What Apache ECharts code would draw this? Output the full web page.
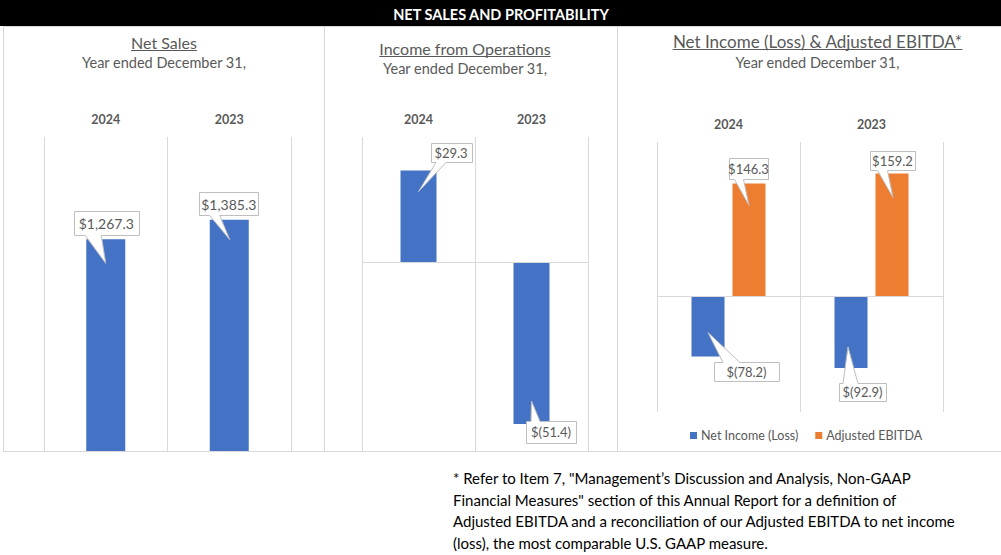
<!DOCTYPE html>
<html><head><meta charset="utf-8">
<script src="https://cdn.jsdelivr.net/npm/echarts@6/dist/echarts.min.js"></script>
<style>html,body{margin:0;padding:0;background:#fff}#c{width:1001px;height:555px}</style>
</head><body><div id="c"></div>
<script>
// ---- data ----
const years = ['2024', '2023'];
const netSales = [1267.3, 1385.3];
const incomeFromOps = [29.3, -51.4];
const netIncome = [-78.2, -92.9];
const adjEbitda = [146.3, 159.2];
const seriesNames = ['Net Income (Loss)', 'Adjusted EBITDA'];
const panelTitles = ['Net Sales', 'Income from Operations', 'Net Income (Loss) & Adjusted EBITDA*'];
const subtitleText = 'Year ended December 31,';
const headerText = 'NET SALES AND PROFITABILITY';
const footnoteLines = [
  '* Refer to Item 7, "Management\u2019s Discussion and Analysis, Non-GAAP',
  'Financial Measures" section of this Annual Report for a definition of',
  'Adjusted EBITDA and a reconciliation of our Adjusted EBITDA to net income',
  '(loss), the most comparable U.S. GAAP measure.'
];

// ---- style ----
const FONT = 'Lato';
const GRAY = '#595959';
const LINE = '#d9d9d9';
const BLUE = '#4472C4';
const ORANGE = '#ED7D31';

// callout box styles (offsets from bar end, box size, wedge base, tip offset)
const calloutNetSales = [
  {dx: 0.5, dy: -16.8, w: 65, h: 24, b0: -21, b1: -5, tx: 0, ty: 24},
  {dx: -0.5, dy: -16, w: 59, h: 23, b0: -19, b1: -9, tx: 0.5, ty: 20}
];
const calloutOps = [
  {dx: 32.5, dy: -18.5, w: 41, h: 19, b0: -15, b1: -5, tx: 0, ty: 21},
  {dx: 19.5, dy: 8, w: 50, h: 22, b0: -20, b1: -11, tx: 0, ty: -23}
];
const calloutNetIncome = [
  {dx: 38.5, dy: 14.5, w: 65, h: 19, b0: -23.5, b1: -6.5, tx: 0, ty: -24},
  {dx: 11.5, dy: 24, w: 47, h: 18, b0: -19.5, b1: -4.5, tx: -3, ty: -21}
];
const calloutEbitda = [
  {dx: -0.5, dy: -14.5, w: 39, h: 21, b0: -14, b1: -5, tx: 0, ty: 22},
  {dx: 0.5, dy: -12.5, w: 45, h: 19, b0: -15, b1: -5, tx: 1, ty: 24}
];

function fmt(v) {
  const s = Math.abs(v).toLocaleString('en-US', {minimumFractionDigits: 1, maximumFractionDigits: 1});
  return v < 0 ? '$(' + s + ')' : '$' + s;
}

const measureCtx = document.createElement('canvas').getContext('2d');
function textW(str, font) { measureCtx.font = font; return measureCtx.measureText(str).width; }

function calloutSeries(gi, values, styles, shift, fontSize) {
  return {
    type: 'custom', xAxisIndex: gi, yAxisIndex: gi, z: 10, silent: true, animation: false,
    data: values.map((v, i) => [i, v]),
    renderItem: function (params, api) {
      const i = params.dataIndex;
      const v = api.value(1);
      const p = api.coord([api.value(0), v]);
      const s = styles[i];
      const ax = p[0] + shift, ay = p[1];
      const cx = ax + s.dx, cy = ay + s.dy;
      const L = Math.round(cx - s.w / 2) + 0.5, R = Math.round(cx + s.w / 2) + 0.5;
      const T = Math.round(cy - s.h / 2) + 0.5, B = Math.round(cy + s.h / 2) + 0.5;
      const tip = [ax + s.tx, ay + s.ty];
      let pts;
      if (tip[1] > B) {
        pts = [[L, T], [R, T], [R, B], [cx + s.b1, B], tip, [cx + s.b0, B], [L, B]];
      } else {
        pts = [[L, T], [cx + s.b0, T], tip, [cx + s.b1, T], [R, T], [R, B], [L, B]];
      }
      return {
        type: 'group',
        children: [
          {type: 'polygon', shape: {points: pts}, style: {fill: '#fff', stroke: '#bfbfbf', lineWidth: 1}},
          {type: 'text', style: {text: fmt(v), x: cx, y: cy + 0.5, align: 'center', verticalAlign: 'middle',
            fill: GRAY, fontFamily: FONT, fontSize: fontSize}}
        ]
      };
    }
  };
}

const grids = [
  {left: 44, top: 137, width: 247, height: 314},
  {left: 362, top: 137, width: 226, height: 314},
  {left: 657, top: 142, width: 286, height: 270}
];
const yRanges = [[0, 1880], [-60, 40], [-150, 200]];

const xAxes = grids.map((g, k) => ({
  type: 'category', gridIndex: k, data: years, position: 'top',
  axisLine: {show: false}, axisTick: {show: false},
  axisLabel: {color: GRAY, fontWeight: 'bold', fontSize: 12.5, fontFamily: FONT, margin: 11},
  splitLine: {show: true, lineStyle: {color: LINE, width: 1}}
}));
const yAxes = yRanges.map((r, k) => ({
  type: 'value', gridIndex: k, min: r[0], max: r[1], show: false, splitLine: {show: false}
}));

const zeroLine = {
  silent: true, symbol: 'none', label: {show: false}, animation: false,
  lineStyle: {color: LINE, type: 'solid', width: 1}, data: [{yAxis: 0}]
};

const titlePos = [[164, 42, 62], [465, 48, 68], [817.5, 41, 62]];
const titleSizes = [16, 16, 17];
const graphics = [];
graphics.push({type: 'rect', shape: {x: 0, y: 0, width: 1001, height: 26}, style: {fill: '#000'}, z: 1});
graphics.push({type: 'text', style: {text: headerText, x: 501, y: 14, align: 'center', verticalAlign: 'middle',
  fill: '#fff', fontFamily: FONT, fontWeight: 'bold', fontSize: 14.5}, z: 2});
// panel borders
const borderLines = [
  [3, 26.5, 1001, 26.5], [3.5, 26, 3.5, 451.5], [324.5, 26, 324.5, 451.5], [617.5, 26, 617.5, 451.5], [3, 451.5, 1001, 451.5]
];
borderLines.forEach(l => graphics.push({type: 'line', shape: {x1: l[0], y1: l[1], x2: l[2], y2: l[3]},
  style: {stroke: LINE, lineWidth: 1}, z: 0}));
panelTitles.forEach((t, k) => {
  const [x, y, sy] = titlePos[k];
  const fs = titleSizes[k];
  graphics.push({type: 'text', style: {text: t, x: x, y: y, align: 'center', verticalAlign: 'middle',
    fill: GRAY, fontFamily: FONT, fontSize: fs}, z: 2});
  const w = textW(t, fs + 'px ' + FONT);
  graphics.push({type: 'line', shape: {x1: x - w / 2, y1: Math.round(y + 8) + 0.5, x2: x + w / 2, y2: Math.round(y + 8) + 0.5},
    style: {stroke: GRAY, lineWidth: 1}, z: 2});
  graphics.push({type: 'text', style: {text: subtitleText, x: x, y: sy, align: 'center', verticalAlign: 'middle',
    fill: GRAY, fontFamily: FONT, fontSize: 14.5}, z: 2});
});
graphics.push({type: 'text', style: {text: footnoteLines.join('\n'), x: 453, y: 467, align: 'left', verticalAlign: 'top',
  fill: '#000', fontFamily: FONT, fontSize: 15, lineHeight: 21.7}, z: 2});

const option = {
  animation: false,
  backgroundColor: '#fff',
  textStyle: {fontFamily: FONT},
  grid: grids,
  xAxis: xAxes,
  yAxis: yAxes,
  legend: {
    data: seriesNames, left: 685, top: 424, icon: 'rect', itemWidth: 7, itemHeight: 7, itemGap: 17,
    textStyle: {color: GRAY, fontSize: 12.5, fontFamily: FONT, padding: [0, 0, 0, -1]}
  },
  graphic: graphics,
  series: [
    {type: 'bar', xAxisIndex: 0, yAxisIndex: 0, data: netSales, barWidth: 39, itemStyle: {color: BLUE}},
    {type: 'bar', xAxisIndex: 1, yAxisIndex: 1, data: incomeFromOps, barWidth: 36, itemStyle: {color: BLUE}, markLine: zeroLine},
    {type: 'bar', name: seriesNames[0], xAxisIndex: 2, yAxisIndex: 2, data: netIncome, barWidth: 33, barGap: '24.2%',
      itemStyle: {color: BLUE}, markLine: zeroLine},
    {type: 'bar', name: seriesNames[1], xAxisIndex: 2, yAxisIndex: 2, data: adjEbitda, barWidth: 33, barGap: '24.2%',
      itemStyle: {color: ORANGE}},
    calloutSeries(0, netSales, calloutNetSales, 0, 14),
    calloutSeries(1, incomeFromOps, calloutOps, 0, 13),
    calloutSeries(2, netIncome, calloutNetIncome, -20.5, 13),
    calloutSeries(2, adjEbitda, calloutEbitda, 20.5, 13)
  ]
};
const chart = echarts.init(document.getElementById('c'), null, {renderer: 'svg'});
chart.setOption(option);
</script></body></html>
